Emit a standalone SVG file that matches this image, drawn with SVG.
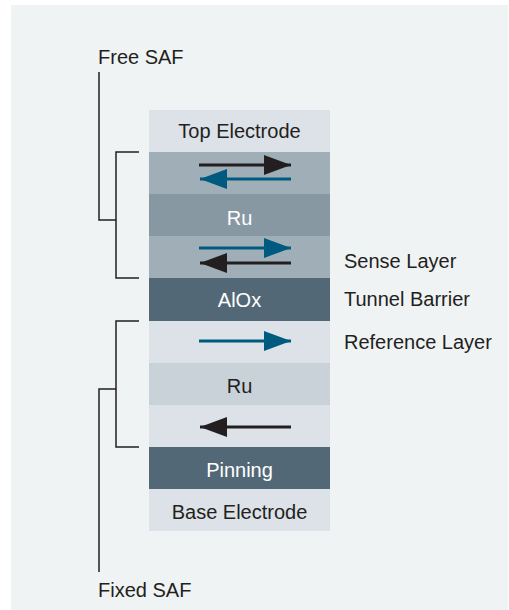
<svg xmlns="http://www.w3.org/2000/svg" width="509" height="610" viewBox="0 0 509 610">
  <defs>
    <style>
      .lbl { font-family: "Liberation Sans", Arial, sans-serif; font-size: 20px; fill: #231f20; }
      .in { text-anchor: middle; }
      .lt { fill: #ffffff; }
      .br { fill: none; stroke: #231f20; stroke-width: 1.5; }
      .ak { stroke: #231f20; stroke-width: 3; }
      .ab { stroke: #005a80; stroke-width: 3; }
    </style>
    <marker id="headK" viewBox="0 0 27 20" refX="27" refY="10" markerWidth="27" markerHeight="20" markerUnits="userSpaceOnUse" orient="auto">
      <path d="M0,0 L27,10 L0,20 Z" fill="#231f20"/>
    </marker>
    <marker id="headB" viewBox="0 0 27 20" refX="27" refY="10" markerWidth="27" markerHeight="20" markerUnits="userSpaceOnUse" orient="auto">
      <path d="M0,0 L27,10 L0,20 Z" fill="#005a80"/>
    </marker>
  </defs>

  <!-- panel -->
  <rect x="0" y="0" width="509" height="610" fill="#ffffff"/>
  <rect x="11" y="5" width="497" height="605" fill="#eff3f4"/>

  <!-- layer stack -->
  <g id="top-electrode">
    <rect x="149" y="110" width="181" height="42" fill="#dce2e7"/>
    <text class="lbl in" x="239.5" y="138">Top Electrode</text>
  </g>
  <g id="free-layer-1">
    <rect x="149" y="152" width="181" height="42" fill="#a0aeb8"/>
    <line class="ak" x1="199" y1="165" x2="291" y2="165" marker-end="url(#headK)"/>
    <line class="ab" x1="291" y1="179" x2="200" y2="179" marker-end="url(#headB)"/>
  </g>
  <g id="ru-free">
    <rect x="149" y="194" width="181" height="42" fill="#8798a3"/>
    <text class="lbl in lt" x="239.5" y="225">Ru</text>
  </g>
  <g id="sense-layer">
    <rect x="149" y="236" width="181" height="42" fill="#a0aeb8"/>
    <line class="ab" x1="199" y1="248" x2="291" y2="248" marker-end="url(#headB)"/>
    <line class="ak" x1="291" y1="263" x2="200" y2="263" marker-end="url(#headK)"/>
  </g>
  <g id="alox">
    <rect x="149" y="278" width="181" height="43" fill="#536877"/>
    <text class="lbl in lt" x="239.5" y="307">AlOx</text>
  </g>
  <g id="reference-layer">
    <rect x="149" y="321" width="181" height="42" fill="#dce2e7"/>
    <line class="ab" x1="199" y1="341" x2="291" y2="341" marker-end="url(#headB)"/>
  </g>
  <g id="ru-fixed">
    <rect x="149" y="363" width="181" height="42" fill="#c9d2d8"/>
    <text class="lbl in" x="239.5" y="393">Ru</text>
  </g>
  <g id="pinned-layer">
    <rect x="149" y="405" width="181" height="42" fill="#dce2e7"/>
    <line class="ak" x1="291" y1="427" x2="200" y2="427" marker-end="url(#headK)"/>
  </g>
  <g id="pinning">
    <rect x="149" y="447" width="181" height="42" fill="#536877"/>
    <text class="lbl in lt" x="239.5" y="477">Pinning</text>
  </g>
  <g id="base-electrode">
    <rect x="149" y="489" width="181" height="42" fill="#dce2e7"/>
    <text class="lbl in" x="239.5" y="519">Base Electrode</text>
  </g>

  <!-- side labels -->
  <g id="free-saf"><text class="lbl" x="98" y="64">Free SAF</text></g>
  <g id="fixed-saf"><text class="lbl" x="98" y="597">Fixed SAF</text></g>
  <g id="sense-label"><text class="lbl" x="344" y="268">Sense Layer</text></g>
  <g id="tunnel-label"><text class="lbl" x="344" y="306">Tunnel Barrier</text></g>
  <g id="reference-label"><text class="lbl" x="344" y="349">Reference Layer</text></g>

  <!-- brackets -->
  <g id="connectors">
    <polyline class="br" points="139,152 116,152 116,278 139,278"/>
    <polyline class="br" points="99,72 99,220 116,220"/>
    <polyline class="br" points="139,321 116,321 116,447 139,447"/>
    <polyline class="br" points="116,389 99,389 99,572"/>
  </g>
</svg>
